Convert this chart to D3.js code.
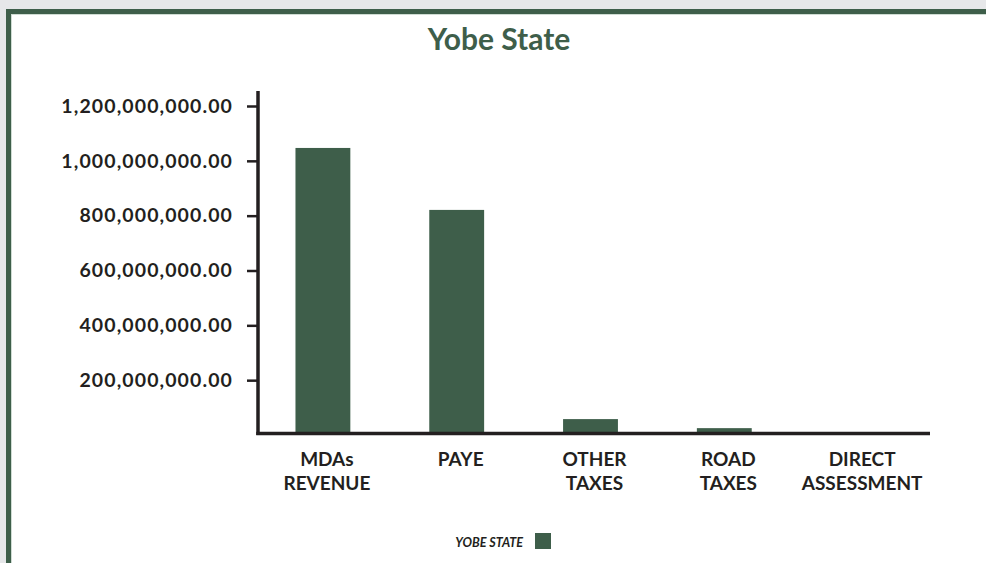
<!DOCTYPE html>
<html>
<head>
<meta charset="utf-8">
<script src="https://cdn.jsdelivr.net/npm/d3@7"></script>
<style>
  html, body { margin: 0; padding: 0; background: #e6e7e9; }
  svg { display: block; }
  text { font-family: Lato, "Open Sans", sans-serif; }
</style>
</head>
<body>
<svg id="chart" width="986" height="563"></svg>
<script>
// Data
const categories = [["MDAs", "REVENUE"], ["PAYE"], ["OTHER", "TAXES"], ["ROAD", "TAXES"], ["DIRECT", "ASSESSMENT"]];
const values = [1047000000, 821000000, 58000000, 25000000, 3000000];
const tickValues = [200000000, 400000000, 600000000, 800000000, 1000000000, 1200000000];
const seriesName = "YOBE STATE";
const title = "Yobe State";

const green = "#3e5e4a";
const ink = "#231f20";

const svg = d3.select("#chart");

// panel with green frame
svg.append("rect").attr("x", 0).attr("y", 0).attr("width", 986).attr("height", 563).attr("fill", "#e6e7e9");
svg.append("rect").attr("x", 6).attr("y", 9).attr("width", 1000).attr("height", 600).attr("fill", green);
svg.append("rect").attr("x", 11).attr("y", 14).attr("width", 1000).attr("height", 600).attr("fill", "#cfdcd3");
svg.append("rect").attr("x", 12).attr("y", 15).attr("width", 1000).attr("height", 600).attr("fill", "#fff");

svg.append("text")
    .attr("x", 499).attr("y", 50)
    .attr("text-anchor", "middle")
    .attr("font-size", 30).attr("font-weight", 700)
    .attr("fill", green)
    .text(title);

const x = d3.scaleBand()
    .domain(categories.map((d, i) => i))
    .range([256, 925]);

const y = d3.scaleLinear()
    .domain([0, 1200000000])
    .range([435, 106]);

// bars
svg.selectAll(".bar")
    .data(values)
    .enter()
    .append("rect")
    .attr("class", "bar")
    .attr("x", (d, i) => x(i) + x.bandwidth() * 0.295)
    .attr("width", x.bandwidth() * 0.41)
    .attr("y", d => y(d))
    .attr("height", d => y(0) - y(d))
    .attr("fill", green);

// y axis
const yAxis = svg.append("g")
    .attr("transform", "translate(258,0)")
    .call(d3.axisLeft(y).tickValues(tickValues).tickSize(11).tickPadding(14)
        .tickFormat(d => d3.format(",.2f")(d)));
yAxis.select(".domain").remove();
yAxis.selectAll(".tick line").attr("stroke", ink).attr("stroke-width", 2.5);
yAxis.selectAll(".tick text")
    .attr("fill", ink)
    .attr("font-size", 19.5).attr("font-weight", 700)
    .attr("letter-spacing", 1.1)
    .attr("font-family", "Lato, sans-serif");

svg.append("line")
    .attr("x1", 258).attr("x2", 258)
    .attr("y1", 91).attr("y2", 435)
    .attr("stroke", ink).attr("stroke-width", 3.5);

svg.append("line")
    .attr("x1", 256.25).attr("x2", 930)
    .attr("y1", 433.5).attr("y2", 433.5)
    .attr("stroke", ink).attr("stroke-width", 3.5);

// category labels
const labels = svg.selectAll(".cat")
    .data(categories)
    .enter()
    .append("text")
    .attr("class", "cat")
    .attr("text-anchor", "middle")
    .attr("font-size", 19).attr("font-weight", 700)
    .attr("fill", ink)
    .attr("transform", (d, i) => `translate(${x(i) + x.bandwidth() / 2 + 4},466)`);

labels.selectAll("tspan")
    .data(d => d)
    .enter()
    .append("tspan")
    .attr("x", 0)
    .attr("y", (d, i) => i * 24)
    .text(d => d);

// legend
svg.append("text")
    .attr("x", 523).attr("y", 547)
    .attr("text-anchor", "end")
    .attr("font-size", 12.6).attr("font-weight", 700).attr("font-style", "italic")
    .attr("fill", ink)
    .text(seriesName);
svg.append("rect")
    .attr("x", 535).attr("y", 533)
    .attr("width", 16).attr("height", 16)
    .attr("fill", green);
</script>
</body>
</html>
